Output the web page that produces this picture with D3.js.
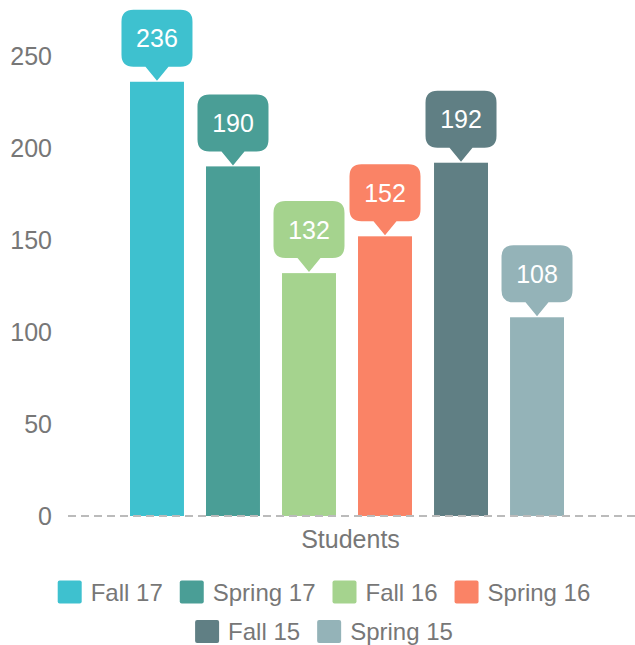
<!DOCTYPE html>
<html><head><meta charset="utf-8">
<script src="https://cdn.jsdelivr.net/npm/d3@7"></script>
<style>body{margin:0;background:#fff}svg{display:block}svg text{font-family:"Liberation Sans",Arial,sans-serif}</style>
</head><body><svg id="c" width="635" height="645"></svg>
<script>
const categories = ["Students"];
const seriesNames = ["Fall 17","Spring 17","Fall 16","Spring 16","Fall 15","Spring 15"];
const seriesValues = [236,190,132,152,192,108];
const seriesColors = ["#3EC1CF","#4A9E96","#A5D38E","#FA8366","#607F84","#94B3B8"];
const yTicks = [0,50,100,150,200,250];

const svg = d3.select("#c");
const FONT = "'Liberation Sans',Arial,sans-serif";
const y = d3.scaleLinear().domain([0,250]).range([516,56]);
const x0 = d3.scaleBand().domain(categories).range([130,564]);
const x1 = d3.scaleBand().domain(seriesNames).range([0,x0.bandwidth()]).paddingInner(0.29).paddingOuter(0);

// y axis labels
const yAxis = d3.axisLeft(y).tickValues(yTicks).tickSize(0).tickPadding(0);
const ga = svg.append("g").attr("transform","translate(52,0)").call(yAxis);
ga.select(".domain").remove();
ga.attr("font-family",FONT);
ga.selectAll("text").attr("fill","#777").style("font-size","25px").style("font-family",FONT);

const data = seriesNames.map((n,i)=>({name:n,value:seriesValues[i],color:seriesColors[i]}));

// bars
svg.append("g").selectAll("rect").data(data).join("rect")
  .attr("x",d=>x0("Students")+x1(d.name))
  .attr("width",x1.bandwidth())
  .attr("y",d=>y(d.value))
  .attr("height",d=>y(0)-y(d.value))
  .attr("fill",d=>d.color);

// baseline
svg.append("line").attr("x1",68).attr("x2",635).attr("y1",y(0)).attr("y2",y(0))
  .attr("stroke","#bbb").attr("stroke-width",2).attr("stroke-dasharray","8,5");

// callouts
const bw=71,bh=57,r=12,tw=23,th=14;
const cg = svg.append("g").selectAll("g").data(data).join("g")
  .attr("transform",d=>`translate(${x0("Students")+x1(d.name)+x1.bandwidth()/2},${y(d.value)-1})`);
cg.append("path").attr("fill",d=>d.color).attr("d",()=>{
  const l=-bw/2, rr=bw/2, t=-th-bh, b=-th;
  return `M${l+r},${t} H${rr-r} Q${rr},${t} ${rr},${t+r} V${b-r} Q${rr},${b} ${rr-r},${b} H${tw/2} L0,0 L${-tw/2},${b} H${l+r} Q${l},${b} ${l},${b-r} V${t+r} Q${l},${t} ${l+r},${t} Z`;
});
cg.append("text").attr("text-anchor","middle").attr("y",-th-bh/2+9).attr("fill","#fff")
  .style("font-size","25px").style("font-family",FONT).text(d=>d.value);

// x label
svg.append("text").attr("x",350.5).attr("y",548).attr("text-anchor","middle").attr("fill","#777")
  .style("font-size","25px").style("font-family",FONT).text(categories[0]);

// legend
const rows=[[0,1,2,3],[4,5]];
const rowY=[600.5,640];
const sq=24, gap=9, itemGap=17;
rows.forEach((row,ri)=>{
  const g = svg.append("g");
  let xpos=0;
  row.forEach(i=>{
    const it=g.append("g").attr("transform",`translate(${xpos},0)`);
    it.append("rect").attr("x",0).attr("y",-20).attr("width",sq).attr("height",23).attr("rx",2).attr("fill",seriesColors[i]);
    const t=it.append("text").attr("x",sq+gap).attr("y",0).attr("fill","#777").style("font-size","24px").style("font-family",FONT).text(seriesNames[i]);
    xpos += sq+gap+t.node().getComputedTextLength()+itemGap;
  });
  const w=xpos-itemGap;
  g.attr("transform",`translate(${324-w/2},${rowY[ri]})`);
});
</script></body></html>
